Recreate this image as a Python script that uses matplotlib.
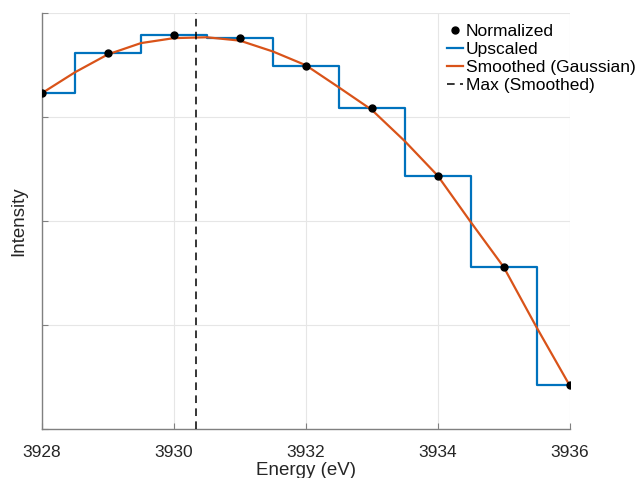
import matplotlib
matplotlib.use("Agg")
import matplotlib.pyplot as plt
import numpy as np

plt.rcParams['font.family'] = ['Liberation Sans', 'DejaVu Sans']

energy = [3928, 3929, 3930, 3931, 3932, 3933, 3934, 3935, 3936]
normalized = [0.807, 0.904, 0.946, 0.939, 0.873, 0.771, 0.609, 0.390, 0.106]

smooth_energy = [3928, 3928.5, 3929, 3929.5, 3930, 3930.5, 3931, 3931.5, 3932,
                 3932.5, 3933, 3933.5, 3934, 3934.5, 3935, 3935.5, 3936]
smoothed = [0.807, 0.857, 0.900, 0.927, 0.939, 0.941, 0.933, 0.907, 0.874,
            0.821, 0.767, 0.692, 0.609, 0.498, 0.390, 0.245, 0.106]
max_energy = 3930.33

xticks = [3928, 3930, 3932, 3934, 3936]
yticks = [0, 0.25, 0.5, 0.75, 1.0]

blue = '#0072BD'
orange = '#D95319'
axis_gray = '#808080'
text_dark = '#262626'

fig = plt.figure(figsize=(6.36, 4.78), dpi=100)
ax = fig.add_axes([42/636, 1-429.3/478, (569.5-42)/636, (429.3-12.7)/478])

ax.plot(energy, normalized, 'o', color='black', markersize=5, zorder=5, label='Normalized')
ax.step(energy, normalized, where='mid', color=blue, lw=1.6, zorder=3, label='Upscaled')
ax.plot(smooth_energy, smoothed, color=orange, lw=1.6, zorder=4, label='Smoothed (Gaussian)')
ax.axvline(max_energy, color='black', lw=1.1, ls=(0, (5, 3.5)), zorder=4, label='Max (Smoothed)')

ax.set_xlim(3928, 3936)
ax.set_ylim(0, 1)
ax.set_xticks(xticks)
ax.set_yticks(yticks)
ax.set_yticklabels([])
ax.grid(True, color='#e6e6e6', lw=0.8, zorder=0)
ax.set_axisbelow(True)

for s in ['top', 'right']:
    ax.spines[s].set_visible(False)
for s in ['left', 'bottom']:
    ax.spines[s].set_color(axis_gray)
    ax.spines[s].set_linewidth(1.0)

ax.tick_params(axis='both', direction='in', length=4, width=0.8, color=axis_gray,
               labelsize=12.5, labelcolor=text_dark)
ax.tick_params(axis='x', pad=11)

ax.set_xlabel('Energy (eV)', fontsize=13.5, color=text_dark, labelpad=2)
ax.set_ylabel('Intensity', fontsize=13.5, color=text_dark, labelpad=7)

leg = ax.legend(loc='upper left', bbox_to_anchor=(447/636, 1-24/478),
                bbox_transform=fig.transFigure, frameon=False, fontsize=12.5,
                handlelength=0.9, handletextpad=0.2, labelspacing=0.16,
                borderpad=0, borderaxespad=0, markerscale=1.0)
for t in leg.get_texts():
    t.set_color('black')

fig.savefig('out.png', dpi=100)
